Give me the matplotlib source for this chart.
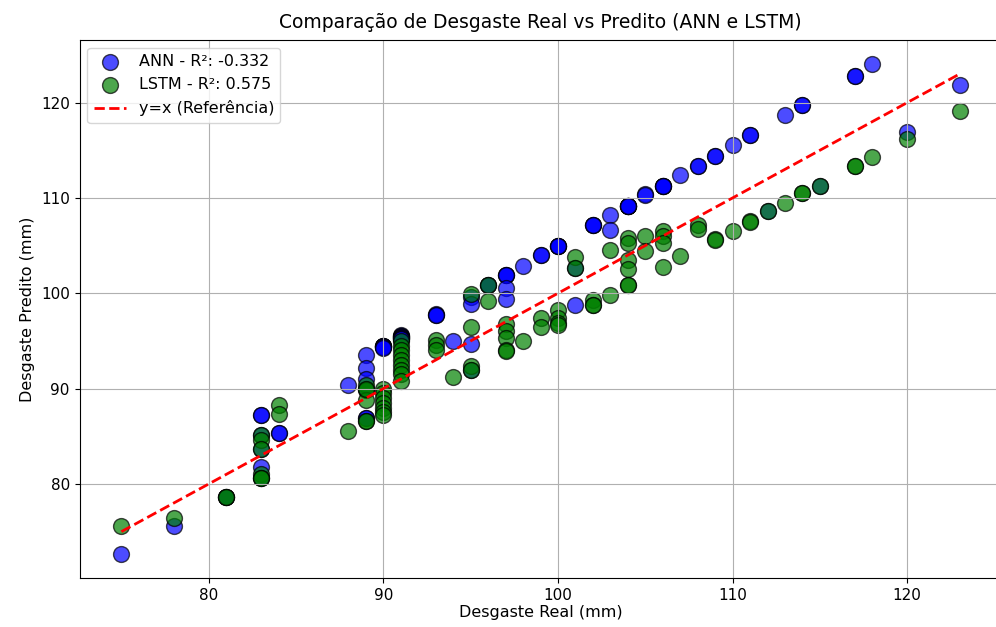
import matplotlib
matplotlib.use("Agg")
import matplotlib.pyplot as plt
import numpy as np

# real wear values (mm) and predictions for each model, same order
y_real = ([75] + [78] + [81] * 2 + [83] * 6 + [84] * 2 + [88] + [89] * 6 + [90] * 7
          + [91] * 9 + [93] * 3 + [94] + [95] * 4 + [96] * 2 + [97] * 5 + [98]
          + [99] * 2 + [100] * 4 + [101] * 2 + [102] * 3 + [103] * 2 + [104] * 6
          + [105] * 2 + [106] * 4 + [107] + [108] * 2 + [109] * 2 + [110]
          + [111] * 2 + [112] + [113] + [114] * 2 + [115] + [117] * 2 + [118]
          + [120] + [123])

pred_ann = ([72.7] + [75.6] + [78.6, 78.6]
            + [87.2, 87.2, 85.1, 83.7, 81.8, 80.6]
            + [85.3, 85.3] + [90.4]
            + [93.5, 92.2, 91.0, 90.0, 86.9, 86.9]
            + [94.5, 94.5, 94.5, 94.5, 94.4, 94.4, 94.3]
            + [95.6, 95.5, 95.5, 95.4, 95.4, 95.3, 95.3, 95.2, 95.2]
            + [97.8, 97.7, 97.7] + [95.0]
            + [99.6, 98.9, 94.7, 92.0]
            + [100.9, 100.9]
            + [101.9, 101.9, 101.9, 100.6, 99.4]
            + [102.9] + [104.0, 104.0] + [105.0, 105.0, 105.0, 105.0]
            + [98.8, 102.7] + [107.2, 107.2, 107.2] + [108.2, 106.6]
            + [109.2] * 6 + [110.4, 110.3] + [111.3] * 4 + [112.4]
            + [113.4, 113.4] + [114.4, 114.4] + [115.5] + [116.6, 116.6]
            + [108.6] + [118.7] + [119.7, 119.7] + [111.3] + [122.8, 122.8]
            + [124.0] + [116.9] + [121.8])

pred_lstm = ([75.6] + [76.4] + [78.6, 78.6]
             + [85.1, 84.6, 83.7, 81.0, 80.6, 80.6]
             + [88.3, 87.3] + [85.6]
             + [90.4, 89.9, 88.8, 86.6, 86.6, 90.0]
             + [90.0, 89.5, 89.0, 88.5, 88.0, 87.5, 87.2]
             + [95.0, 94.5, 94.0, 93.5, 93.0, 92.5, 92.0, 91.5, 90.8]
             + [95.1, 94.6, 94.1] + [91.2]
             + [99.9, 96.5, 92.4, 91.9]
             + [100.9, 99.2]
             + [96.8, 96.0, 95.3, 94.0, 93.9]
             + [95.0] + [97.4, 96.5] + [98.2, 97.4, 96.9, 96.7]
             + [103.8, 102.7] + [99.3, 98.8, 98.8] + [104.5, 99.8]
             + [105.8, 105.3, 103.5, 102.5, 100.9, 100.9]
             + [106.0, 104.4] + [106.5, 106.0, 105.3, 102.8] + [103.9]
             + [107.2, 106.7] + [105.7, 105.6] + [106.5] + [107.55, 107.5]
             + [108.6] + [109.5] + [110.5, 110.5] + [111.3] + [113.4, 113.4]
             + [114.3] + [116.2] + [119.1])

r2_ann = -0.332
r2_lstm = 0.575

fig = plt.figure(figsize=(9.96, 6.27), dpi=100)
ax = fig.add_axes([79.5 / 996, 49 / 627, 922 / 996, 538 / 627])

ax.scatter(y_real, pred_ann, color="blue", alpha=0.7, edgecolors="k", s=130,
           label=f"ANN - R²: {r2_ann:.3f}")
ax.scatter(y_real, pred_lstm, color="green", alpha=0.7, edgecolors="k", s=130,
           label=f"LSTM - R²: {r2_lstm:.3f}")
ax.plot([min(y_real), max(y_real)], [min(y_real), max(y_real)], "r--", lw=2,
        label="y=x (Referência)")

ax.set_title("Comparação de Desgaste Real vs Predito (ANN e LSTM)", fontsize=13.5, pad=9)
ax.set_xlabel("Desgaste Real (mm)", fontsize=11.5, labelpad=2)
ax.set_ylabel("Desgaste Predito (mm)", fontsize=11.5)
ax.tick_params(labelsize=11)
ax.legend(loc="upper left", fontsize=11.5)
ax.grid(True)

fig.savefig("out.png", dpi=100)
